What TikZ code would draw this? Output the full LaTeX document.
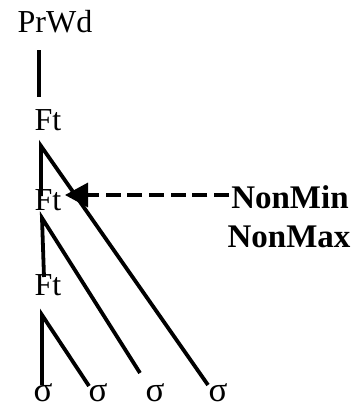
\documentclass[tikz,border=0pt]{standalone}
\usepackage{fontspec}
\setmainfont{Liberation Serif}
\usetikzlibrary{arrows.meta}
\tikzset{
  lbl/.style={inner sep=0pt, anchor=base, font=\fontsize{32}{36}\selectfont},
  slbl/.style={inner sep=0pt, anchor=base, font=\fontsize{35}{38}\selectfont},
  blbl/.style={inner sep=0pt, anchor=base, font=\fontsize{33}{38}\selectfont\bfseries},
  branch/.style={line width=3.8pt},
  dasharrow/.style={line width=3.3pt, dash pattern=on 15pt off 6.7pt, -{Triangle[length=23pt,width=24pt]}}
}
\begin{document}
\begin{tikzpicture}[x=1pt,y=-1pt]
\useasboundingbox (0,0) rectangle (358,407);
% labels
\node[lbl] (prwd) at (55,32) {PrWd};
\node[lbl] (ft1) at (48,130) {Ft};
\node[lbl] (ft2) at (48,210) {Ft};
\node[lbl] (ft3) at (48,295) {Ft};
\node[slbl] (s1) at (43,401) {σ};
\node[slbl] (s2) at (98,401) {σ};
\node[slbl] (s3) at (155,401) {σ};
\node[slbl] (s4) at (218,401) {σ};
\node[blbl] (nonmin) at (290,208) {NonMin};
\node[blbl] (nonmax) at (289,247) {NonMax};
% branch end points
\coordinate (prwdB) at (39,50);
\coordinate (ft1T) at (39,97);
\coordinate (ft1B) at (41,146);
\coordinate (ft2T) at (41,196);
\coordinate (ft2B) at (42,218);
\coordinate (ft3T) at (44,277);
\coordinate (ft3B) at (42,315);
\coordinate (s1T) at (42,385);
\coordinate (s2T) at (89,386);
\coordinate (s3T) at (140,373);
\coordinate (s4T) at (208,385);
\coordinate (tip) at (65,195);
\coordinate (dstart) at (229,195);
% branches
\draw[branch] (prwdB) -- (ft1T);
\draw[branch] (ft2T) -- (ft1B) -- (s4T);
\draw[branch] (ft3T) -- (ft2B) -- (s3T);
\draw[branch] (s1T) -- (ft3B) -- (s2T);
% dashed arrow
\draw[dasharrow] (dstart) -- (tip);
\end{tikzpicture}
\end{document}
